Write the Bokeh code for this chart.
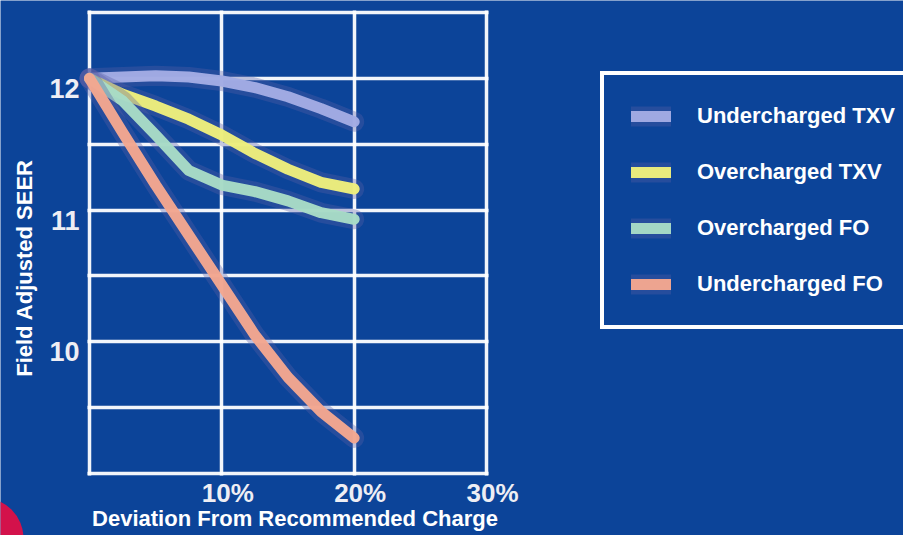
import math
from bokeh.plotting import figure
from bokeh.models import Range1d, FixedTicker, Legend, LegendItem, ColumnDataSource
from bokeh.core.properties import value
from bokeh.embed import file_html
from bokeh.resources import INLINE

# ---- data ----
deviation_pct = [0, 2.5, 5, 7.5, 10, 12.5, 15, 17.5, 20]
undercharged_txv = [12.0, 12.01, 12.02, 12.01, 11.98, 11.93, 11.86, 11.77, 11.67]
overcharged_txv = [12.0, 11.88, 11.79, 11.69, 11.57, 11.43, 11.31, 11.21, 11.16]
overcharged_fo = [12.0, 11.83, 11.57, 11.30, 11.19, 11.14, 11.07, 10.98, 10.93]
undercharged_fo = [12.0, 11.59, 11.19, 10.81, 10.43, 10.05, 9.73, 9.47, 9.27]

series_names = ["Undercharged TXV", "Overcharged TXV", "Overcharged FO", "Undercharged FO"]
series_values = [undercharged_txv, overcharged_txv, overcharged_fo, undercharged_fo]
series_colors = ["#a3ace4", "#eef07c", "#a8dcc6", "#f4a790"]

x_min, x_max = 0, 30          # plotted box, % deviation
y_min, y_max = 9.0, 12.5      # plotted box, SEER
x_tick_values = [10, 20, 30]
x_tick_labels = ["10%", "20%", "30%"]
x_grid_values = [0, 10, 20, 30]
y_tick_values = [12, 11, 10]
y_tick_labels = ["12", "11", "10"]
y_grid_values = [9.0, 9.5, 10.0, 10.5, 11.0, 11.5, 12.0, 12.5]

# ---- layout (pixels of the 903x535 canvas) ----
W, H = 903, 535
BOX_L, BOX_R, BOX_T, BOX_B = 89, 486, 12, 473
sx = (BOX_R - BOX_L) / (x_max - x_min)
sy = (BOX_B - BOX_T) / (y_max - y_min)
x_range = Range1d(x_min - BOX_L / sx, x_max + (W - BOX_R) / sx)
y_range = Range1d(y_min - (H - BOX_B) / sy, y_max + BOX_T / sy)

BG = "#0c4499"
FONT = value("Liberation Sans")

p = figure(width=W, height=H, output_backend="svg", toolbar_location=None,
           x_range=x_range, y_range=y_range,
           min_border=0, min_border_left=0, min_border_right=0,
           min_border_top=0, min_border_bottom=0)
p.background_fill_color = BG
p.border_fill_color = BG
p.outline_line_color = None
p.xaxis.visible = False
p.yaxis.visible = False

# grid = plot box + inner lines
GW = 3.5
p.xgrid.ticker = FixedTicker(ticks=x_grid_values)
p.xgrid.bounds = (x_min, x_max)
p.xgrid.cross_bounds = (y_min - (GW / 2) / sy, y_max + (GW / 2) / sy)
p.ygrid.ticker = FixedTicker(ticks=y_grid_values)
p.ygrid.bounds = (y_min, y_max)
p.ygrid.cross_bounds = (x_min - (GW / 2) / sx, x_max + (GW / 2) / sx)
for g in (p.xgrid[0], p.ygrid[0]):
    g.grid_line_color = "white"
    g.grid_line_width = GW
    g.grid_line_alpha = 0.95

# decorative red disc at the bottom-left corner
p.scatter(x=[x_min - (BOX_L + 18) / sx], y=[y_min - (538 - BOX_B) / sy], size=82,
          marker="circle", fill_color="#d3124b", line_color=None)

# curves
items = []
for name, vals, col in zip(series_names, series_values, series_colors):
    halo = p.line(deviation_pct, vals, line_color="#5a5fa6", line_width=20, line_alpha=0.35,
                  line_cap="round", line_join="round")
    main = p.line(deviation_pct, vals, line_color=col, line_width=11, line_alpha=0.97,
                  line_cap="round", line_join="round")
    items.append(LegendItem(label=name, renderers=[halo, main]))

# tick labels
xs = ColumnDataSource(dict(x=x_tick_values, y=[y_min] * len(x_tick_values), t=x_tick_labels))
p.text(x="x", y="y", text="t", source=xs, x_offset=6, y_offset=19,
       text_align="center", text_baseline="middle", text_color="#eeeef4",
       text_font=FONT, text_font_style="bold", text_font_size="26px")
ys = ColumnDataSource(dict(x=[x_min] * len(y_tick_values), y=y_tick_values, t=y_tick_labels))
p.text(x="x", y="y", text="t", source=ys, x_offset=-10, y_offset=10,
       text_align="right", text_baseline="middle", text_color="#eeeef4",
       text_font=FONT, text_font_style="bold", text_font_size="27px")

# axis titles
p.text(x=[(x_min + x_max) / 2], y=[y_min], text=["Deviation From Recommended Charge"],
       x_offset=7, y_offset=45, text_align="center", text_baseline="middle",
       text_color="white", text_font=FONT, text_font_style="bold", text_font_size="22px")
p.text(x=[x_min], y=[(y_min + y_max) / 2], text=["Field Adjusted SEER"], angle=math.pi / 2,
       x_offset=-65, y_offset=25, text_align="center", text_baseline="middle",
       text_color="white", text_font=FONT, text_font_style="bold", text_font_size="22px")

legend = Legend(items=items, location=(600, H - 329), margin=0, padding=27,
                spacing=28, glyph_width=40, glyph_height=28, label_height=28,
                label_standoff=26, border_line_color="white", border_line_width=4,
                border_line_alpha=1, background_fill_alpha=0, label_text_color="white",
                label_text_font="Liberation Sans", label_text_font_style="bold",
                label_text_font_size="22px")
p.add_layout(legend, "center")

open("out.html", "w").write(file_html(p, INLINE))
